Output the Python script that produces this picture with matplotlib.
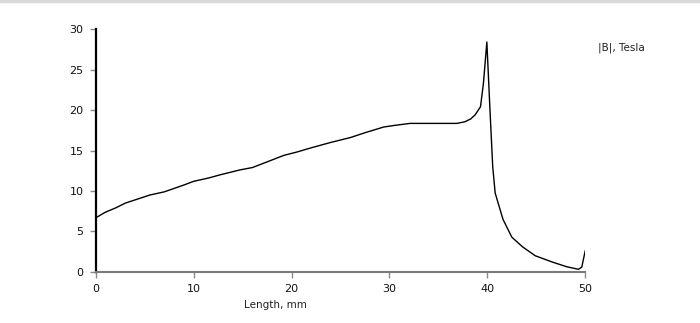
import matplotlib.pyplot as plt

# field magnitude along the length
length_mm = [0, 1, 2, 3, 4, 5.5, 7, 8.9, 10, 11.5, 12.7, 14.7, 16, 17.5, 19.2,
             20.5, 21.9, 24, 26, 27.5, 29.4, 30.5, 32.1, 34.5, 36.9, 37.7,
             38.3, 38.75, 39.3, 39.6, 39.95, 40.25, 40.55, 40.8, 41.6, 42.5,
             43.6, 44.9, 46.7, 48.1, 49.3, 49.65, 50]
b_tesla = [6.7, 7.4, 7.9, 8.5, 8.9, 9.5, 9.9, 10.7, 11.2, 11.6, 12.0, 12.6, 12.9,
           13.6, 14.4, 14.8, 15.3, 16.0, 16.6, 17.2, 17.9, 18.1, 18.35, 18.35,
           18.35, 18.55, 18.9, 19.4, 20.4, 23.3, 28.4, 20.5, 13.0, 9.75, 6.5,
           4.3, 3.1, 2.0, 1.2, 0.65, 0.33, 0.6, 2.6]

x_ticks = [0, 10, 20, 30, 40, 50]
y_ticks = [0, 5, 10, 15, 20, 25, 30]

fig = plt.figure(figsize=(7, 3.23), dpi=100)
ax = fig.add_axes([0.137, 0.158, 0.699, 0.752])

ax.plot(length_mm, b_tesla, color="black", linewidth=1.0)

ax.set_xlim(0, 50)
ax.set_ylim(0, 30)
ax.set_xticks(x_ticks)
ax.set_yticks(y_ticks)

for side in ("top", "right"):
    ax.spines[side].set_visible(False)
ax.spines["left"].set_color("black")
ax.spines["left"].set_linewidth(1.6)
ax.spines["bottom"].set_color("#7a7a7a")
ax.spines["bottom"].set_linewidth(1.5)
ax.tick_params(axis="both", direction="out", length=4, width=1, color="#8a8a8a",
               labelsize=8, labelcolor="#111111", pad=5)

fig.text(0.393, 0.045, "Length, mm", fontsize=7.5, ha="center", color="#222222")
fig.text(0.854, 0.845, "|B|, Tesla", fontsize=7.5, ha="left", color="#222222")

# thin grey rule along the top edge
fig.add_artist(plt.Line2D([0, 1], [0.996, 0.996], color="#d9d9d9", linewidth=2.5,
                          transform=fig.transFigure))

fig.savefig("out.png", dpi=100)
